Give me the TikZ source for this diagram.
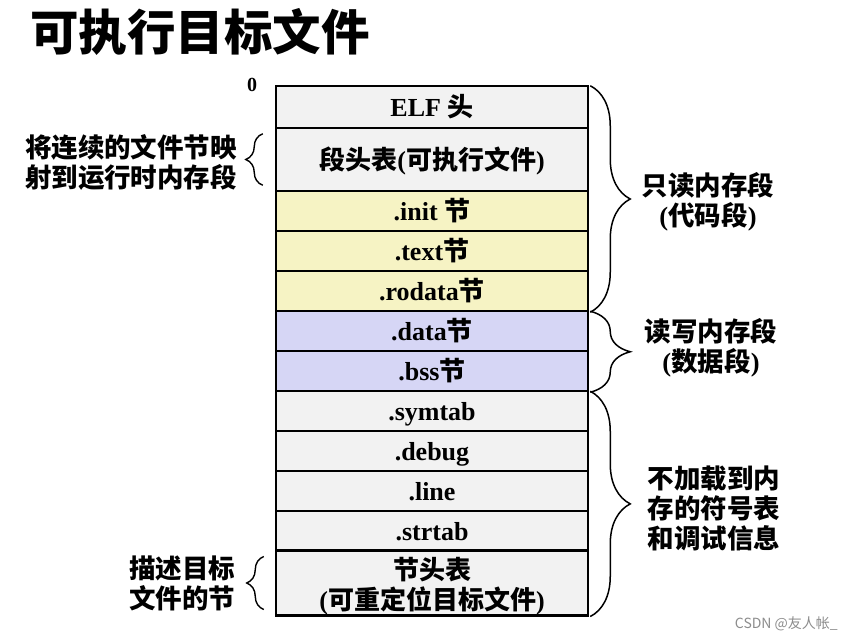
\documentclass[tikz,border=0pt]{standalone}
\usepackage{fontspec}
\setmainfont{Liberation Serif}
\newfontfamily\cjk{Noto Sans CJK SC}
\usetikzlibrary{decorations.pathreplacing}
\newcommand\zh[1]{{\cjk #1}}
\definecolor{rowgray}{RGB}{242,242,242}
\definecolor{rowyellow}{RGB}{246,243,196}
\definecolor{rowblue}{RGB}{214,214,245}
\begin{document}
\begin{tikzpicture}[x=1pt,y=-1pt,
  rowbase/.style={draw=black, line width=2.5pt, minimum width=312pt, inner sep=0pt,
    font=\fontsize{26}{30}\selectfont\bfseries, align=center},
  row/.style={rowbase, text height=20pt, text depth=1pt},
  grayrow/.style={row, fill=rowgray},
  yellowrow/.style={row, fill=rowyellow},
  bluerow/.style={row, fill=rowblue},
  lab/.style={font=\cjk\bfseries\fontsize{26.5}{30}\selectfont, align=center, inner sep=0pt},
  bigbrace/.style={decorate, decoration={brace, amplitude=40pt}, line width=1.5pt},
  smallbrace/.style={decorate, decoration={brace, amplitude=17pt}, line width=1.4pt}
]
\useasboundingbox (0,0) rectangle (852,642);
% title
\node[anchor=west, inner sep=0pt, font=\cjk\bfseries\fontsize{48.5}{50}\selectfont] (title) at (30,32) {可执行目标文件};
\node[inner sep=0pt, font=\fontsize{20}{22}\selectfont\bfseries] (zero) at (252,85) {0};
% rows
\node[grayrow, minimum height=42pt] (elf) at (432,107) {ELF \zh{头}};
\node[grayrow, minimum height=63pt] (pht) at (432,159.5) {\zh{段头表}(\zh{可执行文件})};
\node[yellowrow, minimum height=40pt] (init) at (432,211) {.init \zh{节}};
\node[yellowrow, minimum height=40pt] (text) at (432,251) {.text\zh{节}};
\node[yellowrow, minimum height=40pt] (rodata) at (432,291) {.rodata\zh{节}};
\node[bluerow, minimum height=40pt] (data) at (432,331) {.data\zh{节}};
\node[bluerow, minimum height=40pt] (bss) at (432,371) {.bss\zh{节}};
\node[grayrow, minimum height=40pt] (symtab) at (432,411) {.symtab};
\node[grayrow, minimum height=40pt] (debug) at (432,451) {.debug};
\node[grayrow, minimum height=40pt] (line) at (432,491) {.line};
\node[grayrow, minimum height=40pt] (strtab) at (432,531) {.strtab};
\node[rowbase, fill=rowgray, minimum height=63pt] (sht) at (432,583) {\rule{0pt}{29pt}\zh{节头表}\\(\zh{可重定位目标文件})};
% right braces
\draw[bigbrace] ([xshift=1pt,yshift=-1pt]elf.north east) -- ([xshift=1pt,yshift=0pt]rodata.south east);
\draw[bigbrace] ([xshift=1pt,yshift=-1.5pt]data.north east) -- ([xshift=1pt,yshift=0pt]bss.south east);
\draw[bigbrace] ([xshift=1pt,yshift=-1.5pt]symtab.north east) -- ([xshift=1pt,yshift=0pt]sht.south east);
% left braces
\draw[smallbrace] ([xshift=-12pt,yshift=7pt]pht.south west) -- ([xshift=-12pt,yshift=-7pt]pht.north west);
\draw[smallbrace] ([xshift=-11pt,yshift=7pt]sht.south west) -- ([xshift=-11pt,yshift=-7pt]sht.north west);
% labels
\node[lab] (ro) at (708,202) {只读内存段\\{\rmfamily\bfseries(}代码段{\rmfamily\bfseries)}};
\node[lab] (rw) at (711,348) {读写内存段\\{\rmfamily\bfseries(}数据段{\rmfamily\bfseries)}};
\node[lab] (nl) at (714,508) {不加载到内\\存的符号表\\和调试信息};
\node[lab] (map) at (131,162) {将连续的文件节映\\射到运行时内存段};
\node[lab] (desc) at (182,583) {描述目标\\文件的节};
% watermark
\node[anchor=east, inner sep=0pt, text=black!45, font=\cjk\fontsize{14}{16}\selectfont] (wm) at (838,624) {CSDN @友人帐\_};
\end{tikzpicture}
\end{document}
